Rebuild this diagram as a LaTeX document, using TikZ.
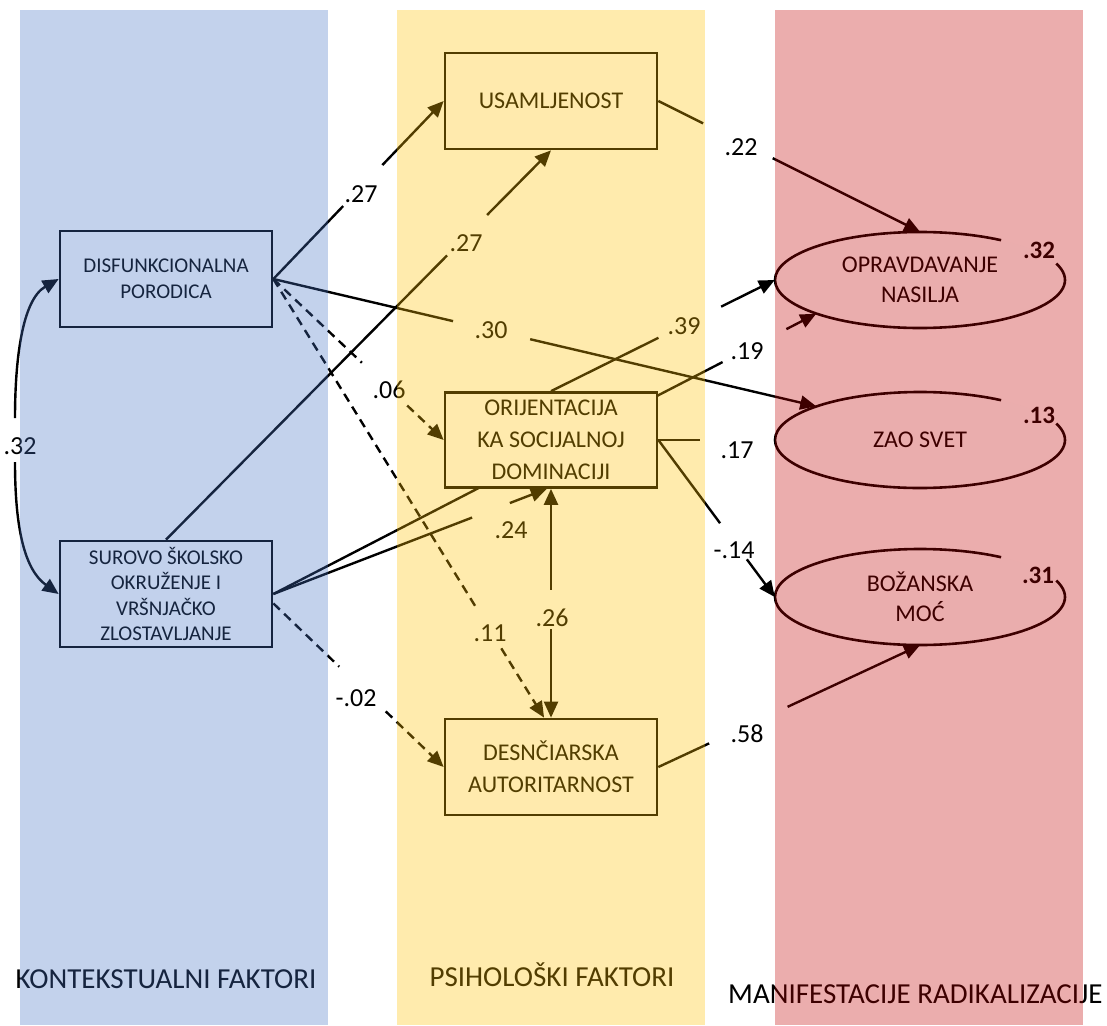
\documentclass[tikz,border=0pt]{standalone}
\usepackage{fontspec}
\setmainfont{Carlito}
\usetikzlibrary{arrows.meta,calc,positioning,shapes.geometric}
\pgfdeclarelayer{lines}
\pgfdeclarelayer{tint}
\pgfsetlayers{lines,main,tint}
\definecolor{kontekst}{RGB}{68,114,196}
\definecolor{psiho}{RGB}{255,192,0}
\definecolor{manif}{RGB}{192,0,0}

\begin{document}
\begin{tikzpicture}[x=1pt,y=-1pt,
    box/.style={draw, line width=2.7pt, fill=white, rectangle, minimum width=212pt, minimum height=96pt, align=center, inner sep=0pt},
    smallbox/.style={box, font=\fontsize{21}{25.5}\selectfont},
    bigbox/.style={box, font=\fontsize{24}{32}\selectfont},
    oval/.style={ellipse, fill=white, minimum width=290pt, minimum height=96pt, align=center, inner sep=0pt, font=\fontsize{24}{30}\selectfont},
    ring/.style={line width=2.6pt},
    link/.style={line width=2.4pt},
    dlink/.style={line width=2.4pt, dash pattern=on 9pt off 6pt},
    arr/.style={-{Triangle[length=16pt,width=14pt]}},
    rarr/.style={{Triangle[length=16pt,width=14pt]}-},
    coef/.style={inner sep=0pt, font=\fontsize{26}{30}\selectfont},
    rsq/.style={inner sep=0pt, font=\bfseries\fontsize{25}{30}\selectfont},
    group/.style={inner sep=0pt, anchor=base, font=\fontsize{29}{34}\selectfont}
]
\useasboundingbox (0,0) rectangle (1107,1025);

\node[smallbox] (disf) at (166,279) {DISFUNKCIONALNA\\PORODICA};
\node[smallbox, minimum height=106pt] (surovo) at (166,594) {SUROVO ŠKOLSKO\\OKRUŽENJE I\\VRŠNJAČKO\\ZLOSTAVLJANJE};
\node[bigbox] (usam) at (551,101) {USAMLJENOST};
\node[bigbox, minimum height=95pt] (orij) at (551,440) {ORIJENTACIJA\\KA SOCIJALNOJ\\DOMINACIJI};
\node[bigbox] (desn) at (551,767) {DESNČIARSKA\\AUTORITARNOST};

\node[oval] (opr) at (920,280) {OPRAVDAVANJE\\NASILJA};
\node[oval] (zao) at (920,440) {ZAO SVET};
\node[oval] (boz) at (920,597) {BOŽANSKA\\MOĆ};
\foreach \e in {opr,zao,boz}
  \draw[ring] ([shift={(56:145pt and 48pt)}]\e.center) arc[start angle=56, end angle=380, x radius=145pt, y radius=48pt];

\node[rsq] (r1) at (1039,250) {.32};
\node[rsq] (r2) at (1039,415) {.13};
\node[rsq] (r3) at (1038,575) {.31};

\node[coef] (k1) at (361,194) {.27};
\node[coef] (k2) at (466,243) {.27};
\node[coef] (k3) at (491,330) {.30};
\node[coef] (k4) at (389,390) {.06};
\node[coef] (k5) at (490,633) {.11};
\node[coef] (k6) at (511,530) {.24};
\node[coef] (k7) at (747,351) {.19};
\node[coef] (k8) at (684,326) {.39};
\node[coef] (k9) at (741,147) {.22};
\node[coef] (k10) at (734,550) {-.14};
\node[coef] (k11) at (356,698) {-.02};
\node[coef] (k12) at (747,734) {.58};
\node[coef] (k13) at (552,618) {.26};
\node[coef] (k14) at (737,450) {.17};
\node[coef] (k15) at (20,446) {.32};

\coordinate (c32a) at (15,418);
\coordinate (c32b) at (15,462);

\begin{pgfonlayer}{lines}
\draw[link] (disf.east) -- ($(disf.east)!0.41!(usam.west)$);
\draw[link,arr] ($(disf.east)!0.64!(usam.west)$) -- (usam.west);
\draw[link] (surovo.north) -- ($(surovo.north)!0.73!(usam.south)$);
\draw[link,arr] ($(surovo.north)!0.834!(usam.south)$) -- (usam.south);
\draw[link] (disf.east) -- ($(disf.east)!0.331!(zao.162)$);
\draw[link,arr] ($(disf.east)!0.473!(zao.162)$) -- (zao.162);
\draw[dlink] (disf.east) -- ($(disf.east)!0.52!(orij.west)$);
\draw[dlink,arr] ($(disf.east)!0.786!(orij.west)$) -- (orij.west);
\draw[dlink] (disf.east) -- ($(disf.east)!0.754!(desn.98)$);
\draw[dlink,arr] ($(disf.east)!0.842!(desn.98)$) -- (desn.98);
\draw[link] (surovo.east) -- ($(surovo.east)!0.727!(orij.265)$);
\draw[link,arr] ($(surovo.east)!0.865!(orij.265)$) -- (orij.265);
\draw[link] (surovo.east) -- ($(surovo.east)!0.8275!(opr.198)$);
\draw[link,arr] ($(surovo.east)!0.945!(opr.198)$) -- (opr.198);
\draw[dlink] (surovo.-5) -- ($(surovo.-5)!0.387!(desn.west)$);
\draw[dlink,arr] ($(surovo.-5)!0.66!(desn.west)$) -- (desn.west);
\draw[link] (usam.east) -- ($(usam.east)!0.171!(opr.north)$);
\draw[link,arr] ($(usam.east)!0.437!(opr.north)$) -- (opr.north);
\draw[link] (orij.north) -- ($(orij.north)!0.48!(opr.west)$);
\draw[link,arr] ($(orij.north)!0.76!(opr.west)$) -- (opr.west);
\draw[link] (orij.east) -- ($(orij.east)!0.36!(zao.west)$);
\draw[link] (orij.east) -- ($(orij.east)!0.53!(boz.west)$);
\draw[link,arr] ($(orij.east)!0.76!(boz.west)$) -- (boz.west);
\draw[link,rarr] (orij.south) -- ($(orij.south)!0.442!(desn.north)$);
\draw[link,arr] ($(orij.south)!0.614!(desn.north)$) -- (desn.north);
\draw[link] (desn.east) -- ($(desn.east)!0.194!(boz.south)$);
\draw[link,arr] ($(desn.east)!0.494!(boz.south)$) -- (boz.south);
\draw[link,rarr] (disf.west) .. controls (22,300) and (15,360) .. (c32a);
\draw[link,arr] (c32b) .. controls (15,530) and (25,570) .. (surovo.west);
\end{pgfonlayer}

\node[group] (kont) at (166,988) {KONTEKSTUALNI FAKTORI};
\node[group] (psih) at (552,986) {PSIHOLOŠKI FAKTORI};
\node[group, anchor=base west] (manif) at (728,1003) {MANIFESTACIJE RADIKALIZACIJE};

\begin{pgfonlayer}{tint}
\fill[kontekst, opacity=0.32] (20,10) rectangle (328,1025);
\fill[psiho, opacity=0.32] (397,10) rectangle (705,1025);
\fill[manif, opacity=0.32] (775,10) rectangle (1083,1025);
\end{pgfonlayer}
\end{tikzpicture}
\end{document}
